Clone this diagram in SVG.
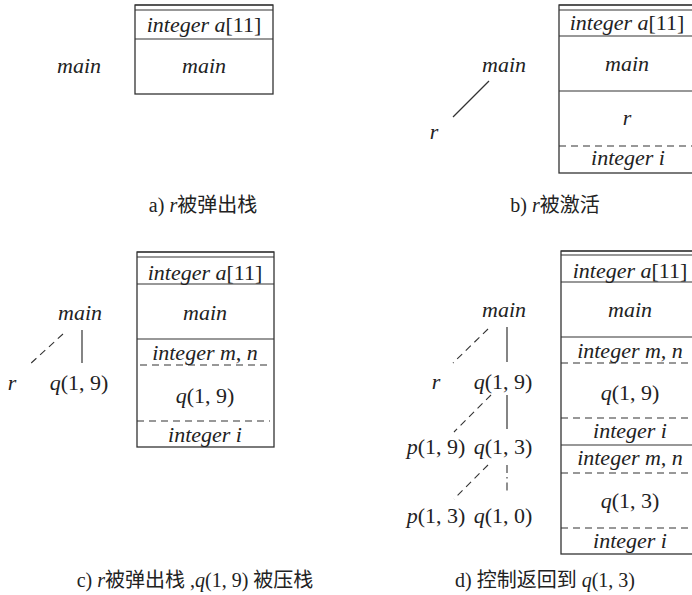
<svg xmlns="http://www.w3.org/2000/svg" width="692" height="595" viewBox="0 0 692 595">
<style>
.bg{fill:#fff}
.box{fill:none;stroke:#333;stroke-width:1.3}
.sl{stroke:#333;stroke-width:1.2;fill:none}
.dl{stroke:#333;stroke-width:1.1;stroke-dasharray:7 5;fill:none}
.dd{stroke:#333;stroke-width:1.1;stroke-dasharray:8 4 1.5 4;fill:none}
.m{font-family:'Liberation Serif','Times New Roman','DejaVu Serif',serif;font-style:italic;font-size:22px;fill:#222;text-anchor:middle}
.u{font-style:normal}
.cap{font-family:'Liberation Serif','Noto Sans CJK SC',serif;font-size:20px;fill:#222;text-anchor:middle}
.ci{font-style:italic}
</style>
<rect class="bg" x="0" y="0" width="692" height="595"/>

<!-- Panel a -->
<g id="stack-a">
  <line class="sl" x1="135" y1="5" x2="273" y2="5"/>
  <line class="sl" x1="135" y1="10" x2="273" y2="10"/>
  <rect class="box" x="135" y="5" width="138" height="89"/>
  <line class="sl" x1="135" y1="39" x2="273" y2="39"/>
  <text class="m" x="204" y="32">integer a<tspan class="u">[11]</tspan></text>
  <text class="m" x="204" y="73">main</text>
</g>
<g id="tree-a-main"><text class="m" x="79" y="73">main</text></g>
<g id="caption-a"><text class="cap" x="203" y="212">a) <tspan class="ci">r</tspan>被弹出栈</text></g>

<!-- Panel b -->
<g id="stack-b">
  <line class="sl" x1="559" y1="5" x2="697" y2="5"/>
  <line class="sl" x1="559" y1="10" x2="697" y2="10"/>
  <rect class="box" x="559" y="5" width="138" height="168"/>
  <line class="sl" x1="559" y1="36" x2="697" y2="36"/>
  <line class="sl" x1="559" y1="91" x2="697" y2="91"/>
  <line class="dl" x1="559" y1="146" x2="697" y2="146"/>
  <text class="m" x="627" y="30">integer a<tspan class="u">[11]</tspan></text>
  <text class="m" x="627" y="71">main</text>
  <text class="m" x="627" y="125">r</text>
  <text class="m" x="628" y="165">integer i</text>
</g>
<g id="tree-b-main"><text class="m" x="504" y="72">main</text></g>
<g id="tree-b-r"><text class="m" x="434" y="139">r</text></g>
<g id="caption-b"><text class="cap" x="555" y="212">b) <tspan class="ci">r</tspan>被激活</text></g>

<!-- Panel c -->
<g id="stack-c">
  <line class="sl" x1="137" y1="252" x2="274" y2="252"/>
  <line class="sl" x1="137" y1="257" x2="274" y2="257"/>
  <rect class="box" x="137" y="252" width="137" height="195"/>
  <line class="sl" x1="137" y1="284" x2="274" y2="284"/>
  <line class="sl" x1="137" y1="339" x2="274" y2="339"/>
  <line class="dl" x1="140" y1="365" x2="270" y2="365"/>
  <line class="dl" x1="137" y1="421" x2="270" y2="421"/>
  <text class="m" x="205" y="280">integer a<tspan class="u">[11]</tspan></text>
  <text class="m" x="205" y="320">main</text>
  <text class="m" x="205" y="360">integer m, n</text>
  <text class="m" x="205" y="403">q<tspan class="u">(1, 9)</tspan></text>
  <text class="m" x="205" y="442">integer i</text>
</g>
<g id="tree-c-main"><text class="m" x="80" y="320">main</text></g>
<g id="tree-c-r"><text class="m" x="12" y="390">r</text></g>
<g id="tree-c-q19"><text class="m" x="79" y="390">q<tspan class="u">(1, 9)</tspan></text></g>
<g id="caption-c"><text class="cap" x="195" y="587">c) <tspan class="ci">r</tspan>被弹出栈 ,<tspan class="ci">q</tspan>(1, 9) 被压栈</text></g>

<!-- Panel d -->
<g id="stack-d">
  <line class="sl" x1="561" y1="251" x2="699" y2="251"/>
  <line class="sl" x1="561" y1="255" x2="699" y2="255"/>
  <rect class="box" x="561" y="251" width="138" height="303"/>
  <line class="sl" x1="561" y1="282" x2="699" y2="282"/>
  <line class="sl" x1="561" y1="337" x2="699" y2="337"/>
  <line class="dl" x1="561" y1="363" x2="699" y2="363"/>
  <line class="dl" x1="561" y1="418" x2="699" y2="418"/>
  <line class="sl" x1="561" y1="445" x2="699" y2="445"/>
  <line class="dl" x1="561" y1="473" x2="699" y2="473"/>
  <line class="dl" x1="561" y1="528" x2="699" y2="528"/>
  <text class="m" x="630" y="278">integer a<tspan class="u">[11]</tspan></text>
  <text class="m" x="630" y="317">main</text>
  <text class="m" x="630" y="358">integer m, n</text>
  <text class="m" x="630" y="400">q<tspan class="u">(1, 9)</tspan></text>
  <text class="m" x="630" y="438">integer i</text>
  <text class="m" x="630" y="465">integer m, n</text>
  <text class="m" x="630" y="508">q<tspan class="u">(1, 3)</tspan></text>
  <text class="m" x="630" y="548">integer i</text>
</g>
<g id="tree-d-main"><text class="m" x="504" y="317">main</text></g>
<g id="tree-d-r"><text class="m" x="436" y="389">r</text></g>
<g id="tree-d-q19"><text class="m" x="503" y="389">q<tspan class="u">(1, 9)</tspan></text></g>
<g id="tree-d-p19"><text class="m" x="436" y="454">p<tspan class="u">(1, 9)</tspan></text></g>
<g id="tree-d-q13"><text class="m" x="503" y="454">q<tspan class="u">(1, 3)</tspan></text></g>
<g id="tree-d-p13"><text class="m" x="436" y="523">p<tspan class="u">(1, 3)</tspan></text></g>
<g id="tree-d-q10"><text class="m" x="503" y="523">q<tspan class="u">(1, 0)</tspan></text></g>
<g id="caption-d"><text class="cap" x="545" y="587">d) 控制返回到 <tspan class="ci">q</tspan>(1, 3)</text></g>

<!-- Connectors -->
<g id="connectors">
  <line class="sl" x1="489" y1="81" x2="453" y2="117"/>
  <line class="dl" x1="63" y1="334" x2="29" y2="365"/>
  <line class="sl" x1="82" y1="330" x2="82" y2="363"/>
  <line class="dl" x1="488" y1="329" x2="453" y2="363"/>
  <line class="sl" x1="507" y1="327" x2="507" y2="362"/>
  <line class="dl" x1="491" y1="395" x2="454" y2="432"/>
  <line class="sl" x1="507" y1="395" x2="507" y2="429"/>
  <line class="dl" x1="488" y1="465" x2="454" y2="499"/>
  <line class="dd" x1="507" y1="465" x2="507" y2="493"/>
</g>
</svg>
